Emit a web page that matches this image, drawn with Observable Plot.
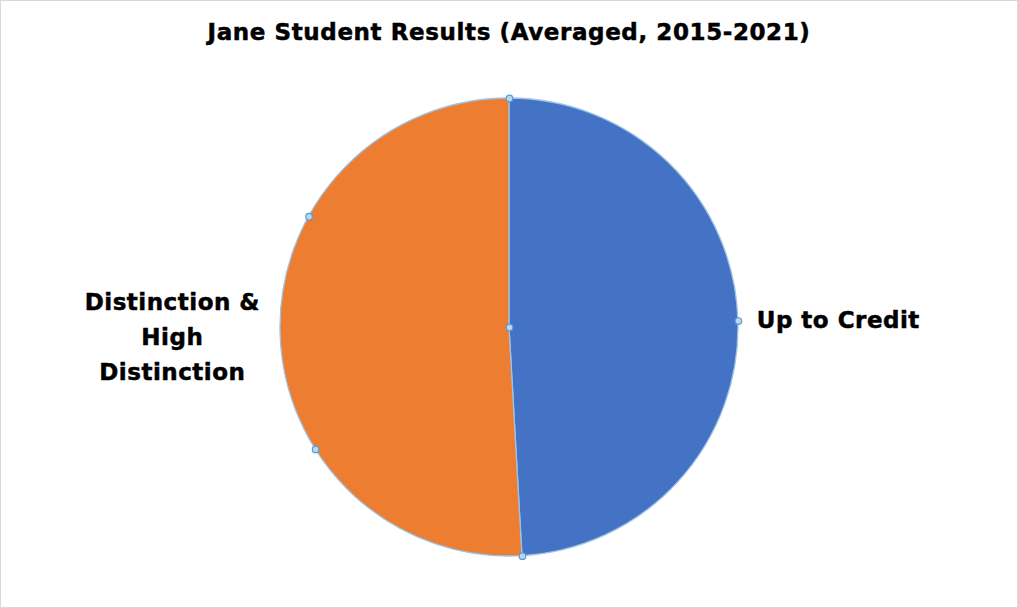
<!DOCTYPE html>
<html>
<head>
<meta charset="utf-8">
<script src="https://cdn.jsdelivr.net/npm/d3@7"></script>
<script src="https://cdn.jsdelivr.net/npm/@observablehq/plot@0.6"></script>
<style>
  html, body { margin: 0; padding: 0; background: #fff; }
  #frame { width: 1018px; height: 608px; box-sizing: border-box; border: 1px solid #d9d9d9; background: #fff; overflow: hidden; }
  #title { height: 61px; line-height: 62px; text-align: center; font-family: "DejaVu Sans", Verdana, sans-serif; font-weight: bold; font-size: 23px; color: #000; -webkit-text-stroke: 0.5px #000; letter-spacing: 0.6px; }
</style>
</head>
<body>
<div id="frame">
  <div id="title">Jane Student Results (Averaged, 2015-2021)</div>
  <div id="chart"></div>
</div>
<script>
const categories = ["Up to Credit", "Distinction & High Distinction"];
const values = [49.1, 50.9];
const colors = ["#4472C4", "#ED7D31"];
const labelLines = ["Up to Credit", "Distinction &\nHigh\nDistinction"];

const data = categories.map((c, i) => ({category: c, value: values[i], color: colors[i], label: labelLines[i]}));
const arcs = d3.pie().value(d => d.value).sort(null)(data);
arcs.forEach(a => {
  a.mid = (a.startAngle + a.endAngle) / 2;
  a.lx = 1.08 * Math.sin(a.mid);
  a.ly = 1.08 * Math.cos(a.mid);
  a.side = Math.sin(a.mid) >= 0 ? "right" : "left";
});
// selection handles along each slice (vertices + arc points)
const handles = [{x: 0, y: 0}];
arcs.forEach(a => {
  const span = a.endAngle - a.startAngle;
  const n = Math.ceil(span / (Math.PI / 2)) - 1;
  handles.push({x: Math.sin(a.startAngle), y: Math.cos(a.startAngle)});
  for (let k = 1; k <= n; k++) {
    const t = a.startAngle + span * k / (n + 1);
    handles.push({x: Math.sin(t), y: Math.cos(t)});
  }
});

const W = 1016, H = 545, cx = 508, cy = 265, R = 229;

const pieMark = (index, scales) => {
  const x = scales.x, y = scales.y;
  const ox = x(0), oy = y(0), r = x(1) - x(0);
  const g = d3.create("svg:g").attr("transform", `translate(${ox},${oy})`);
  const arcGen = d3.arc().innerRadius(0).outerRadius(r);
  g.selectAll("path").data(arcs).join("path")
    .attr("d", arcGen)
    .attr("fill", d => d.data.color)
    .attr("stroke", "#9DC3E6")
    .attr("stroke-width", 1.3)
    .attr("stroke-linejoin", "round");
  return g.node();
};

const labelFont = "'DejaVu Sans', Verdana, sans-serif";
const chart = Plot.plot({
  width: W,
  height: H,
  margin: 0,
  x: {type: "linear", domain: [-1, 1], range: [cx - R, cx + R], axis: null},
  y: {type: "linear", domain: [-1, 1], range: [cy + R, cy - R], axis: null},
  style: {background: "#fff", fontFamily: labelFont, letterSpacing: "0.5px"},
  marks: [
    pieMark,
    Plot.dot(handles, {x: "x", y: "y", r: 3.3, fill: "#BDD7EE", stroke: "#5B9BD5", strokeWidth: 1.2}),
    Plot.text(arcs.filter(a => a.side === "right"), {
      x: "lx", y: "ly", text: d => d.data.label, textAnchor: "start",
      fontSize: 23, fontWeight: "bold", fill: "#000", stroke: "#000", strokeWidth: 0.5, dy: 0
    }),
    Plot.text(arcs.filter(a => a.side === "left"), {
      x: "lx", y: "ly", text: d => d.data.label, textAnchor: "middle", dx: -90,
      fontSize: 23, fontWeight: "bold", fill: "#000", stroke: "#000", strokeWidth: 0.5, lineHeight: 1.53, dy: -1
    })
  ]
});
document.getElementById("chart").appendChild(chart);
</script>
</body>
</html>
